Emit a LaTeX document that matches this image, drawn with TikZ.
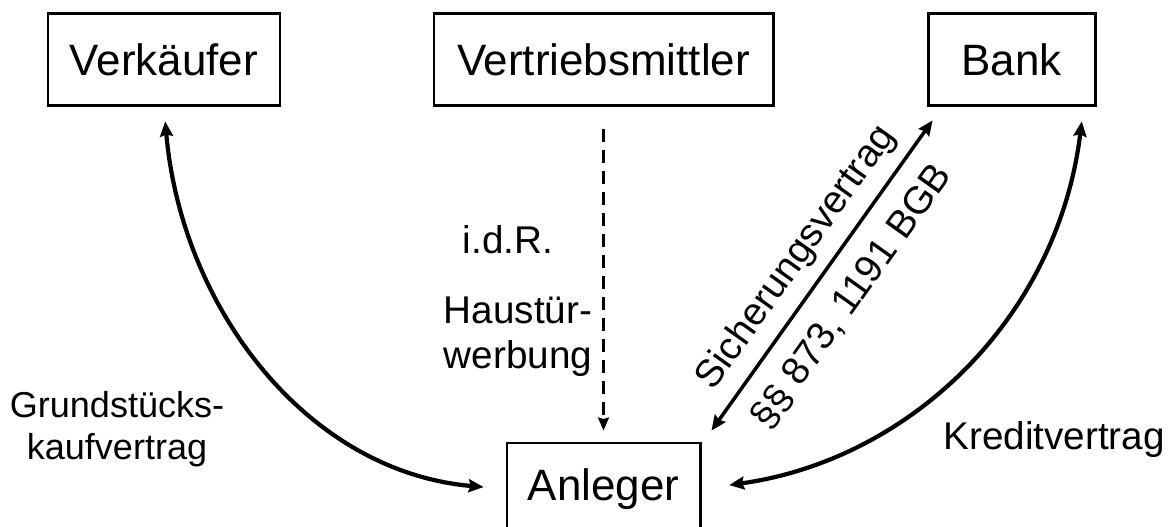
\documentclass[tikz,border=0pt]{standalone}
\usepackage{fontspec}
\setmainfont{Liberation Sans}
\usetikzlibrary{arrows.meta, calc, positioning}
\tikzstyle{party} = [draw, line width=1.7pt, minimum height=1.84cm, inner sep=0pt, font=\fontsize{25}{30}\selectfont]
\tikzstyle{contract} = [line width=2.4pt, <->, >={Stealth[length=0.3cm,width=0.26cm,inset=0.04cm]}]
\tikzstyle{security} = [line width=2pt, <->, >={Stealth[length=0.3cm,width=0.26cm,inset=0.04cm]}]
\tikzstyle{lbl} = [font=\fontsize{22}{25.5}\selectfont, align=center]

\begin{document}
\begin{tikzpicture}
    \useasboundingbox (0,0) rectangle (23.52,10.54);

    % Parties
    \node[party, minimum width=4.64cm] (verk) at (3.28,9.34) {Verkäufer};
    \node[party, minimum width=6.78cm] (vert) at (12.07,9.34) {Vertriebsmittler};
    \node[party, minimum width=3.34cm] (bank) at (20.23,9.34) {Bank};
    \node[party, minimum width=3.86cm] (anl) at (12.07,0.76) {Anleger};

    % Kaufvertrag
    \draw[contract, shorten <=0.28cm, shorten >=0.44cm] (verk.south) to[out=-85, in=175] (anl.west);

    % Kreditvertrag
    \draw[contract, shorten <=0.28cm, shorten >=0.56cm] ($(bank.south east)+(-0.26,0)$) to[out=-97, in=8] (anl.east);

    % Sicherungsvertrag
    \draw[security] ($(anl.north east)+(0.2,0.22)$) -- ($(bank.south west)+(0.12,-0.26)$)
        node[lbl, midway, sloped, above=3pt] {Sicherungsvertrag}
        node[lbl, midway, sloped, below=7pt] {§§ 873, 1191 BGB};

    % Vertrieb
    \draw[line width=1.4pt, dash pattern=on 0.26cm off 0.16cm, ->, >={Stealth[length=0.26cm,width=0.22cm,inset=0.03cm]}, shorten <=0.44cm, shorten >=0.22cm] (vert.south) -- (anl.north);

    % Labels
    \node[lbl] (idr) at (10.16,5.74) {i.d.R.};
    \node[lbl] (haus) at (10.36,3.80) {Haustür-\\werbung};
    \node[lbl, font=\fontsize{20.5}{24}\selectfont] (grund) at (2.34,1.96) {Grundstücks-\\kaufvertrag};
    \node[lbl] (kredit) at (21.08,1.74) {Kreditvertrag};
\end{tikzpicture}
\end{document}
